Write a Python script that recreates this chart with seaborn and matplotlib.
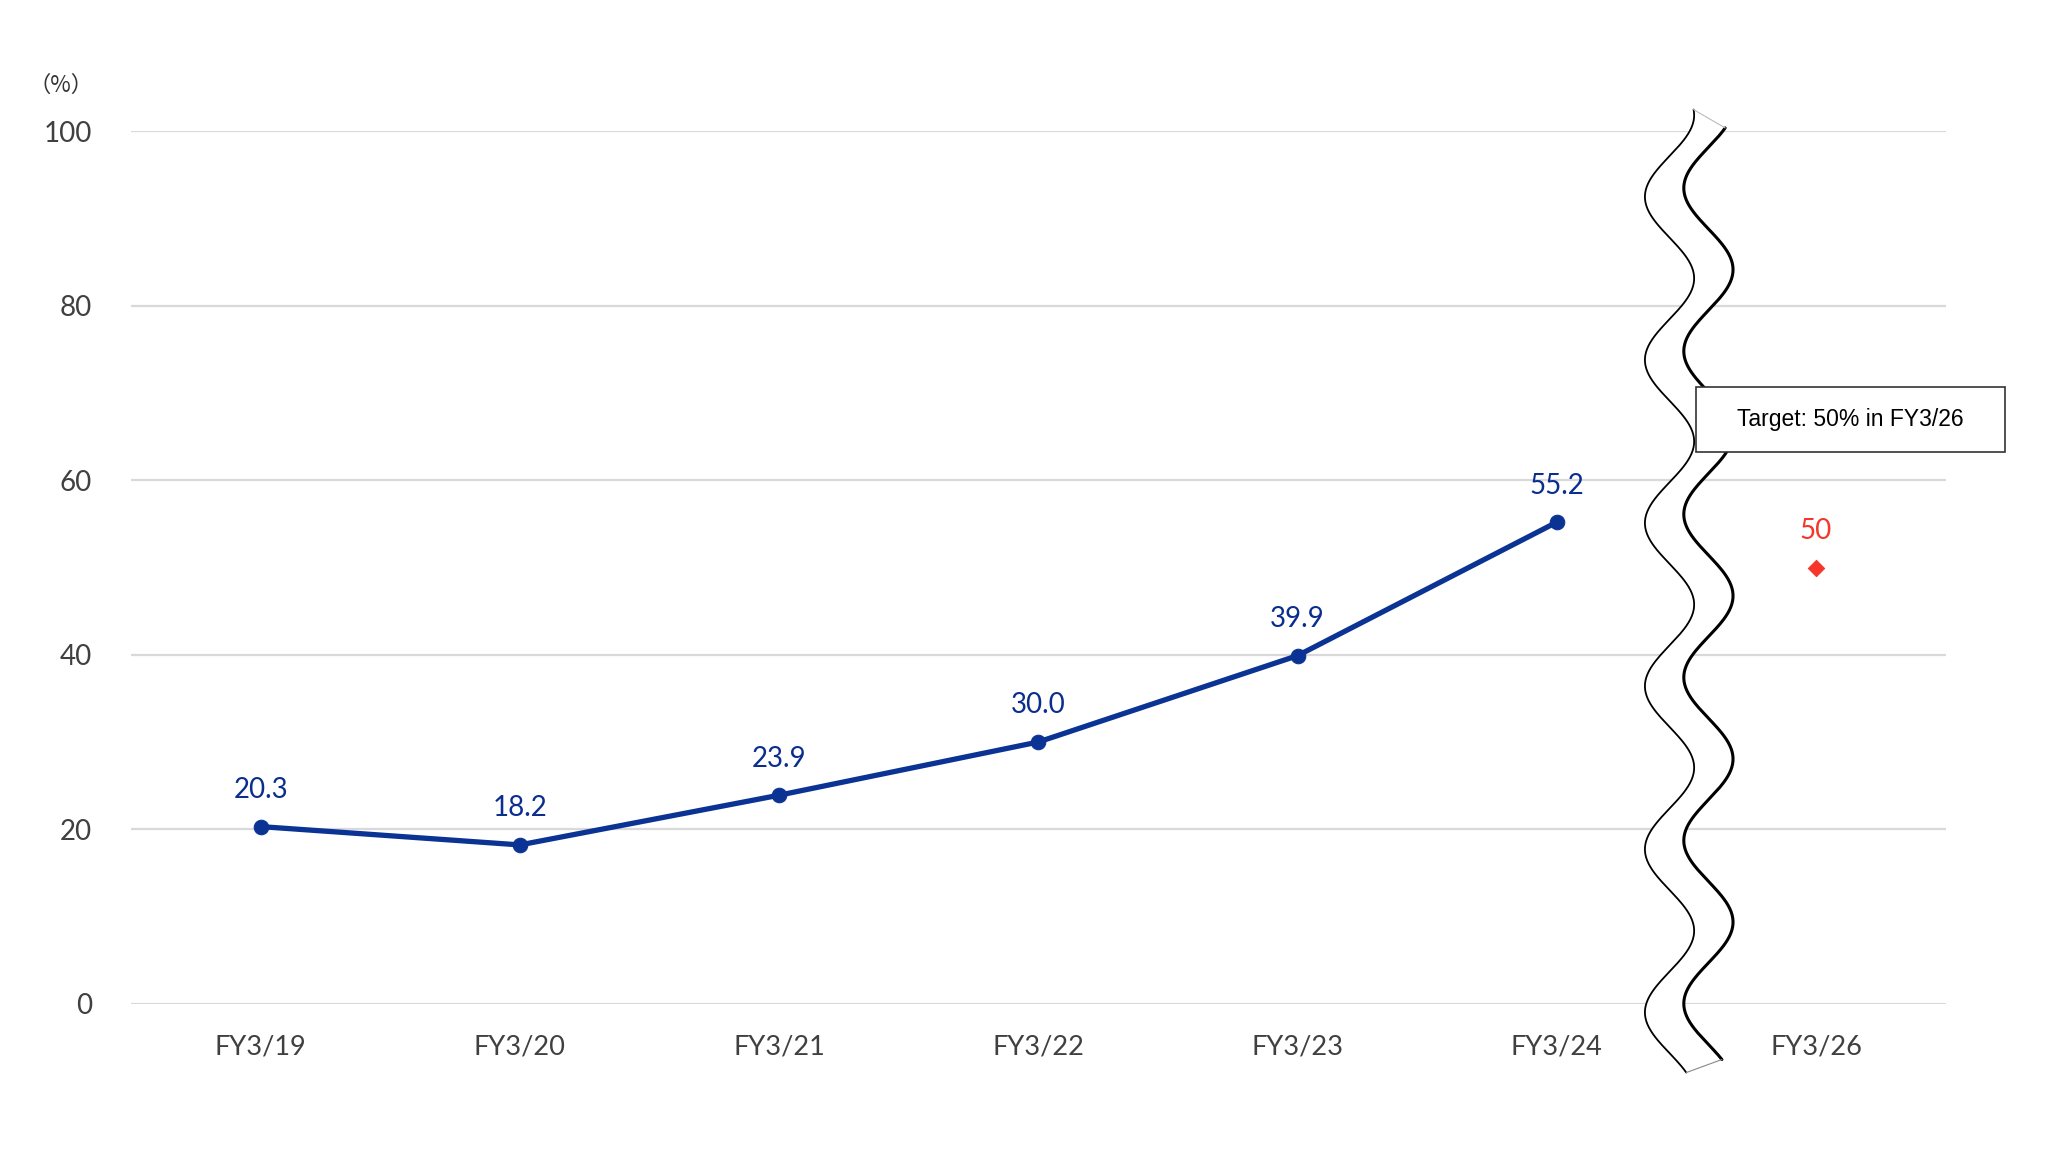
import numpy as np
import pandas as pd
import matplotlib
matplotlib.use("Agg")
import matplotlib.pyplot as plt
import seaborn as sns
from matplotlib.patches import Rectangle

# ---- data ----
categories = ["FY3/19", "FY3/20", "FY3/21", "FY3/22", "FY3/23", "FY3/24", "FY3/26"]
actual_years = ["FY3/19", "FY3/20", "FY3/21", "FY3/22", "FY3/23", "FY3/24"]
actual_values = [20.3, 18.2, 23.9, 30.0, 39.9, 55.2]
actual_labels = ["20.3", "18.2", "23.9", "30.0", "39.9", "55.2"]
target_years = ["FY3/26"]
target_values = [50]
target_labels = ["50"]
y_ticks = [0, 20, 40, 60, 80, 100]
unit_label = "（%）"
target_note = "Target: 50% in FY3/26"

sns.set_theme(style="white")
plt.rcParams['font.family'] = ['Lato', 'DejaVu Sans']

fig = plt.figure(figsize=(20.48, 11.63), dpi=100)
ax = fig.add_axes([0.064, 0.137, 0.886, 0.750])

pos = {c: i for i, c in enumerate(categories)}
df_a = pd.DataFrame({"x": [pos[c] for c in actual_years], "y": actual_values})
df_t = pd.DataFrame({"x": [pos[c] for c in target_years], "y": target_values})

line_col = "#0B3393"
lab_col = "#0B2D8E"
red = "#F4362B"

# gridlines
for t in y_ticks:
    ax.axhline(t, color="#D9D9D9", lw=1.6, zorder=0)

sns.lineplot(data=df_a, x="x", y="y", ax=ax, color=line_col, lw=3.8,
             marker="o", markersize=10.5, markeredgecolor=line_col, zorder=3)
sns.scatterplot(data=df_t, x="x", y="y", ax=ax, color=red, marker="D",
                s=70, edgecolor=red, zorder=3)

for x, y, l in zip(df_a["x"], df_a["y"], actual_labels):
    ax.annotate(l, (x, y), xytext=(0, 17), textcoords="offset points",
                ha="center", va="bottom", fontsize=20, color=lab_col)
for x, y, l in zip(df_t["x"], df_t["y"], target_labels):
    ax.annotate(l, (x, y), xytext=(0, 17), textcoords="offset points",
                ha="center", va="bottom", fontsize=20, color=red)

# break squiggle
P = 18.7
amp = 0.095
def wave(yy, xc):
    return xc + amp * np.sin(2 * np.pi * (yy - 92.5) / P - np.pi / 2)
yl = np.linspace(-7.9, 102.5, 600)
yr = np.linspace(-6.4, 100.4, 600)
xl = wave(yl, 5.435)
xr = wave(yr - 1.0, 5.585)
poly_x = np.concatenate([xl, xr[::-1]])
poly_y = np.concatenate([yl, yr[::-1]])
ax.fill(poly_x, poly_y, color="white", zorder=2, clip_on=False, lw=0)
ax.plot(xl, yl, color="black", lw=1.3, zorder=4, clip_on=False)
ax.plot(xr, yr, color="black", lw=2.2, zorder=4, clip_on=False)
ax.plot([xl[-1], xr[-1]], [yl[-1], yr[-1]], color="#BBBBBB", lw=0.8, zorder=4, clip_on=False)
ax.plot([xl[0], xr[0]], [yl[0], yr[0]], color="#888888", lw=0.8, zorder=4, clip_on=False)

ax.set_xlim(-0.5, 6.5)
ax.set_ylim(0, 100)
ax.set_xticks(range(len(categories)))
ax.set_xticklabels(categories)
ax.set_yticks(y_ticks)
ax.set_yticklabels([str(t) for t in y_ticks])
ax.tick_params(axis="x", length=0, pad=22, labelsize=19.5, labelcolor="#404040")
ax.tick_params(axis="y", length=0, pad=28, labelsize=20, labelcolor="#404040")
ax.set_xlabel("")
ax.set_ylabel("")
for s in ax.spines.values():
    s.set_visible(False)
ax.grid(False)

fig.text(0.030, 0.927, unit_label, fontsize=16, color="#333333", ha="center", va="center",
         family=['Noto Sans CJK JP', 'DejaVu Sans'])

# target note box
rect = Rectangle((0.828, 0.611), 0.151, 0.056, transform=fig.transFigure,
                 facecolor="white", edgecolor="#333333", lw=1.2, zorder=10)
fig.patches.append(rect)
fig.text(0.9035, 0.639, target_note, fontsize=16.5, color="black", ha="center", va="center",
         family=['Liberation Sans', 'DejaVu Sans'], zorder=11)

fig.savefig("out.png", dpi=100, facecolor="white")
